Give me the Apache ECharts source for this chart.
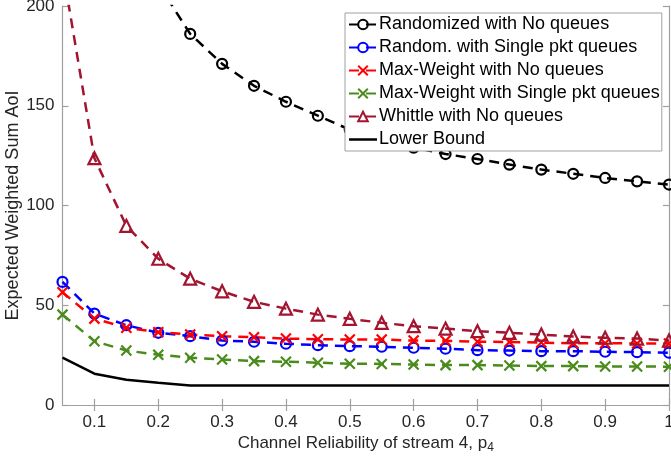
<!DOCTYPE html>
<html>
<head>
<meta charset="utf-8">
<script src="https://cdn.jsdelivr.net/npm/echarts@6/dist/echarts.min.js"></script>
<style>
html,body{margin:0;padding:0;background:#fff;}
#chart{width:671px;height:464px;}
</style>
</head>
<body>
<div id="chart"></div>
<script>
var xValues = [0.05,0.1,0.15,0.2,0.25,0.3,0.35,0.4,0.45,0.5,0.55,0.6,0.65,0.7,0.75,0.8,0.85,0.9,0.95,1.0];
var xTicks = [0.1,0.2,0.3,0.4,0.5,0.6,0.7,0.8,0.9,1];
var yTicks = [0,50,100,150,200];
var seriesNames = ['Randomized with No queues','Random. with Single pkt queues','Max-Weight with No queues','Max-Weight with Single pkt queues','Whittle with No queues','Lower Bound'];
var randNoQueues = [590,340,255,211,186,171,160,152,145,138,133,129,125.8,123.3,120.5,118,115.9,113.8,112.1,110.5];
var randSingle = [61.7,45.8,40,36.2,34.5,32.3,31.7,30.7,30,29.5,29.2,28.7,28.2,27.5,27.3,27,27,26.7,26.5,26.2];
var mwNoQueues = [56.5,43.3,38.7,36.5,35.3,34.5,34,33.3,33,32.8,32.8,32.3,32.2,31.7,31.6,31.3,30.9,31,30.8,30.8];
var mwSingle = [45.3,32,27.3,25.2,23.7,22.8,22,21.7,21.2,20.7,20.6,20.3,20,20,19.8,19.5,19.5,19.3,19.3,19.2];
var whittle = [219,123.7,89.8,73.3,63.3,57,51.7,48.3,45.3,43.2,41.2,39.5,38.3,37,36.2,35.3,34.3,33.7,33.3,32.3];
var lowerBound = [23.7,15.7,12.7,11.2,9.8,9.8,9.8,9.8,9.8,9.8,9.8,9.8,9.8,9.8,9.8,9.8,9.8,9.8,9.8,9.8];

var colors = ['#000000','#0000ff','#ff0000','#4a8c1c','#a2142f','#000000'];
var FONT = 'Liberation Sans, Arial, Helvetica, sans-serif';
var CROSS = 'path://M0,0L10,10M10,0L0,10';

function pairs(arr){ return xValues.map(function(x,i){ return [x, arr[i]]; }); }

function dashed(name, data, color, symbol, size){
  return {
    name: name, type: 'line', data: pairs(data), color: color,
    symbol: symbol, symbolSize: size, showSymbol: true, clip: true,
    lineStyle: {color: color, width: 2.5, type: [10,7]},
    itemStyle: {color: 'rgba(0,0,0,0)', borderColor: color, borderWidth: 2.2},
    emphasis: {disabled: true}
  };
}

var legendData = seriesNames.slice(0,5).map(function(n){ return {name: n}; });
legendData.push({name: seriesNames[5], icon: 'path://M0,0L28,0L28,2.5L0,2.5Z'});

var axisLineStyle = {color: '#a0a0a0', width: 1.2};
var chart = echarts.init(document.getElementById('chart'), null, {renderer: 'canvas'});
chart.setOption({
  animation: false,
  backgroundColor: '#ffffff',
  textStyle: {fontFamily: FONT},
  grid: {left: 62.5, right: 2, top: 6, bottom: 59, containLabel: false, outerBoundsMode: 'none'},
  legend: {
    orient: 'vertical', left: 345, top: 13,
    backgroundColor: '#ffffff', borderColor: '#a0a0a0', borderWidth: 1,
    padding: [2, 2, 2, 3], itemGap: 4, itemWidth: 28, itemHeight: 12,
    textStyle: {fontFamily: FONT, fontSize: 18, color: '#000', lineHeight: 19, padding: [0,0,0,-3]},
    data: legendData
  },
  xAxis: [{
    type: 'value', min: 0.05, max: 1, position: 'bottom',
    name: 'Channel Reliability of stream 4, p{sub|4}', nameLocation: 'middle', nameGap: 27,
    nameMoveOverlap: false,
    nameTextStyle: {fontFamily: FONT, fontSize: 17, color: '#262626',
      rich: {sub: {fontFamily: FONT, fontSize: 12, color: '#262626', verticalAlign: 'bottom', padding: [10,0,0,0]}}},
    axisLine: {show: true, lineStyle: axisLineStyle},
    axisTick: {show: true, inside: true, length: 6, lineStyle: axisLineStyle, customValues: xTicks},
    axisLabel: {fontFamily: FONT, fontSize: 17, color: '#262626', margin: 9, customValues: xTicks,
      formatter: function(v){ return String(Math.round(v*10)/10); }},
    splitLine: {show: false}
  }, {
    type: 'value', min: 0.05, max: 1, position: 'top',
    axisLine: {show: true, lineStyle: axisLineStyle},
    axisTick: {show: true, inside: true, length: 6, lineStyle: axisLineStyle, customValues: xTicks},
    axisLabel: {show: false, customValues: xTicks},
    splitLine: {show: false}
  }],
  yAxis: [{
    type: 'value', min: 0, max: 200, interval: 50, position: 'left',
    name: 'Expected Weighted Sum AoI', nameLocation: 'middle', nameGap: 40,
    nameMoveOverlap: false,
    nameTextStyle: {fontFamily: FONT, fontSize: 18, color: '#262626'},
    axisLine: {show: true, lineStyle: axisLineStyle},
    axisTick: {show: true, inside: true, length: 6, lineStyle: axisLineStyle},
    axisLabel: {fontFamily: FONT, fontSize: 17, color: '#262626', margin: 8},
    splitLine: {show: false}
  }, {
    type: 'value', min: 0, max: 200, interval: 50, position: 'right',
    axisLine: {show: true, lineStyle: axisLineStyle},
    axisTick: {show: true, inside: true, length: 6, lineStyle: axisLineStyle},
    axisLabel: {show: false},
    splitLine: {show: false}
  }],
  series: [
    dashed(seriesNames[0], randNoQueues, colors[0], 'circle', 10),
    dashed(seriesNames[1], randSingle, colors[1], 'circle', 10),
    dashed(seriesNames[2], mwNoQueues, colors[2], CROSS, 10),
    dashed(seriesNames[3], mwSingle, colors[3], CROSS, 10),
    dashed(seriesNames[4], whittle, colors[4], 'triangle', 12),
    {
      name: seriesNames[5], type: 'line', data: pairs(lowerBound), color: colors[5],
      symbol: 'none', showSymbol: false, clip: true,
      lineStyle: {color: colors[5], width: 2.5, type: 'solid'},
      emphasis: {disabled: true}
    }
  ]
});
</script>
</body>
</html>
